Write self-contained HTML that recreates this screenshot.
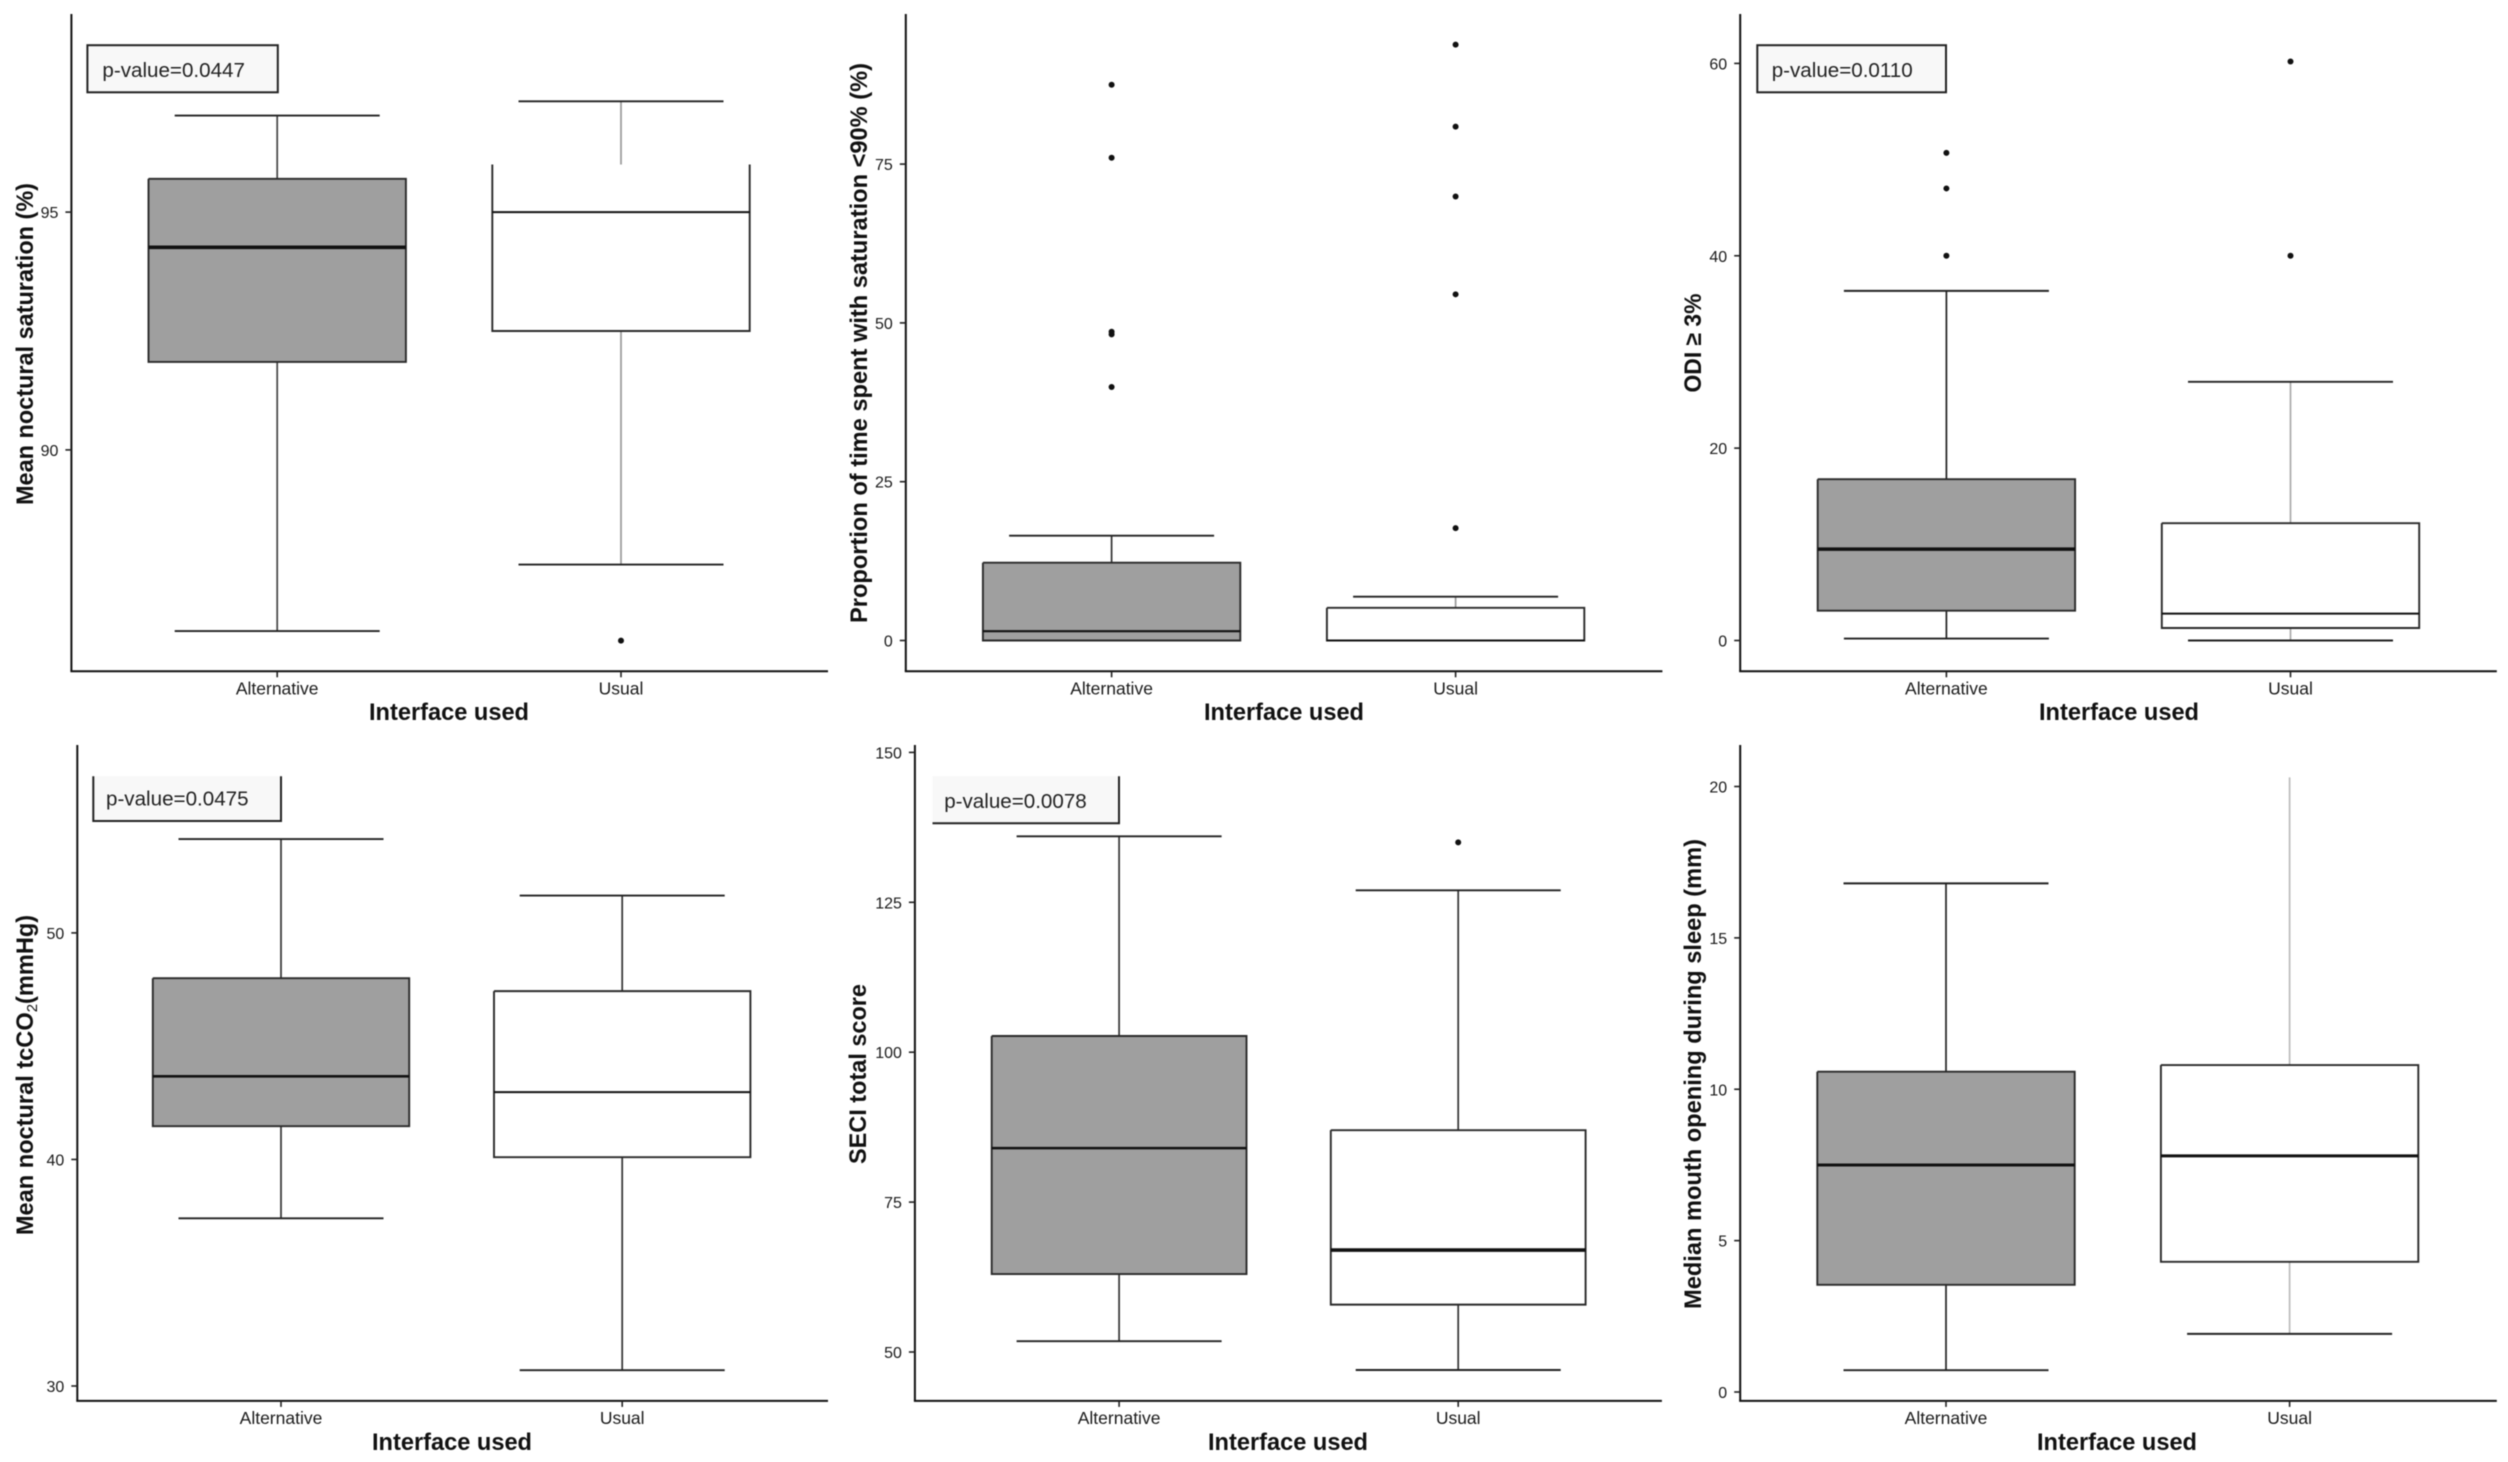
<!DOCTYPE html>
<html lang="en">
<head>
<meta charset="utf-8">
<title>Boxplots by interface used</title>
<style>
html,body{margin:0;padding:0;background:#fff;}
svg{display:block;filter:blur(0.55px);}
text{font-family:"Liberation Sans",Arial,sans-serif;fill:#1a1a1a;}
.axis-title{font-weight:bold;font-size:23.6px;fill:#111;}
.p-text{font-size:20.6px;fill:#222;}
.p-box{fill:#f8f8f8;stroke:none;}
.p-edge{stroke:#222;stroke-width:2;fill:none;}
</style>
</head>
<body>
<svg id="chart" xmlns="http://www.w3.org/2000/svg" width="2508" height="1462" viewBox="0 0 2508 1462">
  <rect x="0" y="0" width="2508" height="1462" fill="#ffffff"/>

  <g id="p1">
    <text class="axis-title" transform="translate(33,344) rotate(-90)" text-anchor="middle" textLength="322" lengthAdjust="spacingAndGlyphs">Mean noctural saturation (%)</text>
    <text class="axis-title" x="449" y="720" text-anchor="middle">Interface used</text>
  </g>
  <g id="p2">
    <text class="axis-title" transform="translate(867,343) rotate(-90)" text-anchor="middle" textLength="560" lengthAdjust="spacingAndGlyphs">Proportion of time spent with saturation &lt;90% (%)</text>
    <text class="axis-title" x="1284" y="720" text-anchor="middle">Interface used</text>
  </g>
  <g id="p3">
    <text class="axis-title" transform="translate(1701,343) rotate(-90)" text-anchor="middle" textLength="99" lengthAdjust="spacingAndGlyphs">ODI ≥ 3%</text>
    <text class="axis-title" x="2119" y="720" text-anchor="middle">Interface used</text>
  </g>
  <g id="p4">
    <text class="axis-title" transform="translate(33,1075) rotate(-90)" text-anchor="middle">Mean noctural tcCO<tspan dy="4" font-size="15" font-weight="normal">2</tspan><tspan dy="-4">(mmHg)</tspan></text>
    <text class="axis-title" x="452" y="1450" text-anchor="middle">Interface used</text>
  </g>
  <g id="p5">
    <text class="axis-title" transform="translate(866,1074) rotate(-90)" text-anchor="middle" textLength="180" lengthAdjust="spacingAndGlyphs">SECI total score</text>
    <text class="axis-title" x="1288" y="1450" text-anchor="middle">Interface used</text>
  </g>
  <g id="p6">
    <text class="axis-title" transform="translate(1701,1074) rotate(-90)" text-anchor="middle" textLength="470" lengthAdjust="spacingAndGlyphs">Median mouth opening during sleep (mm)</text>
    <text class="axis-title" x="2117" y="1450" text-anchor="middle">Interface used</text>
  </g>

  <g id="annotations">
    <g>
      <rect class="p-box p-edge" style="fill:#f8f8f8" x="87.4" y="45.2" width="190.4" height="47.1"/>
      <text class="p-text" x="102.4" y="77">p-value=0.0447</text>
    </g>
    <g>
      <rect class="p-box p-edge" style="fill:#f8f8f8" x="1757.3" y="45.2" width="188.7" height="47.1"/>
      <text class="p-text" x="1771.7" y="77">p-value=0.0110</text>
    </g>
    <g>
      <rect class="p-box" x="93.3" y="776.2" width="187.7" height="44.8"/>
      <polyline class="p-edge" points="93.3,776.2 93.3,821 281,821 281,776.2"/>
      <text class="p-text" x="106" y="805.6">p-value=0.0475</text>
    </g>
    <g>
      <rect class="p-box" x="932.5" y="776.2" width="186.5" height="47.1"/>
      <polyline class="p-edge" points="932.5,823.3 1119,823.3 1119,776.2"/>
      <text class="p-text" x="944.2" y="808">p-value=0.0078</text>
    </g>
  </g>
</svg>

<script>
// Shared categories
const categories = ['Alternative', 'Usual'];

// Each box series: [lower whisker, Q1, median, Q3, upper whisker]
const saturationTicks = [90, 95];
const saturationAlternative = [86.19, 91.85, 94.26, 95.7, 97.03];
const saturationUsual = [87.59, 92.5, 95, 96, 97.33];
const saturationAlternativeOutliers = [];
const saturationUsualOutliers = [85.99];

const timeBelowTicks = [0, 25, 50, 75];
const timeBelowAlternative = [0, 0, 1.47, 12.25, 16.5];
const timeBelowUsual = [0, 0, 0, 5.14, 6.9];
const timeBelowAlternativeOutliers = [87.5, 76, 48.6, 48.2, 39.9];
const timeBelowUsualOutliers = [93.8, 80.9, 69.9, 54.5, 17.7];

const odiTicks = [0, 20, 40, 60];
const odiAlternative = [0.2, 3.1, 9.5, 16.77, 36.35];
const odiUsual = [0, 1.3, 2.8, 12.2, 26.9];
const odiAlternativeOutliers = [50.7, 47, 40];
const odiUsualOutliers = [60.2, 40];

const tcco2Ticks = [30, 40, 50];
const tcco2Alternative = [37.4, 41.47, 43.67, 48, 54.14];
const tcco2Usual = [30.7, 40.1, 42.97, 47.43, 51.65];
const tcco2AlternativeOutliers = [];
const tcco2UsualOutliers = [];

const seciTicks = [50, 75, 100, 125, 150];
const seciAlternative = [51.8, 63, 84, 102.7, 136];
const seciUsual = [47, 57.9, 67, 87, 127];
const seciAlternativeOutliers = [];
const seciUsualOutliers = [135];

const mouthTicks = [0, 5, 10, 15, 20];
const mouthAlternative = [0.72, 3.54, 7.5, 10.58, 16.8];
const mouthUsual = [1.92, 4.3, 7.8, 10.8, 20.3];
const mouthAlternativeOutliers = [];
const mouthUsualOutliers = [];

// Panel layout: plot frame, and the pixel span for two reference axis values
const panels = [
  { id:'p1', left:71.4,  right:828,    top:14,  bottom:671.3,  domain:[90,95],   range:[449.9,212.1],  centers:[277.2,621], boxHalf:128.7,
    ticks:saturationTicks, series:[saturationAlternative,saturationUsual], outliers:[saturationAlternativeOutliers,saturationUsualOutliers],
    medianWidth:[3.6,2], whiskerColor:['#444','#999'], openTop:[false,true], noTopCap:[false,false] },
  { id:'p2', left:905.8, right:1662.4, top:14,  bottom:671.3,  domain:[0,75],    range:[640.5,164.1],  centers:[1111.6,1455.6], boxHalf:128.7,
    ticks:timeBelowTicks, series:[timeBelowAlternative,timeBelowUsual], outliers:[timeBelowAlternativeOutliers,timeBelowUsualOutliers],
    medianWidth:[2.2,2], whiskerColor:['#333','#999'], openTop:[false,false], noTopCap:[false,false] },
  { id:'p3', left:1740.2,right:2496.8, top:14,  bottom:671.3,  domain:[0,60],    range:[640.5,63.4],   centers:[1946.4,2290.5], boxHalf:128.7,
    ticks:odiTicks, series:[odiAlternative,odiUsual], outliers:[odiAlternativeOutliers,odiUsualOutliers],
    medianWidth:[3.6,2], whiskerColor:['#222','#aaa'], openTop:[false,false], noTopCap:[false,false] },
  { id:'p4', left:77.3,  right:828,    top:745, bottom:1400.9, domain:[30,50],   range:[1386,932.9],   centers:[281,622.2], boxHalf:128.2,
    ticks:tcco2Ticks, series:[tcco2Alternative,tcco2Usual], outliers:[tcco2AlternativeOutliers,tcco2UsualOutliers],
    medianWidth:[2.6,2], whiskerColor:['#333','#333'], openTop:[false,false], noTopCap:[false,false] },
  { id:'p5', left:914.9, right:1661.9, top:745, bottom:1400.9, domain:[50,150],  range:[1352,752.4],   centers:[1119.1,1458.2], boxHalf:127.4,
    ticks:seciTicks, series:[seciAlternative,seciUsual], outliers:[seciAlternativeOutliers,seciUsualOutliers],
    medianWidth:[2.4,3.6], whiskerColor:['#333','#333'], openTop:[false,false], noTopCap:[false,false] },
  { id:'p6', left:1740.2,right:2496.8, top:745, bottom:1400.9, domain:[0,20],    range:[1392,786.5],   centers:[1946,2289.6], boxHalf:128.7,
    ticks:mouthTicks, series:[mouthAlternative,mouthUsual], outliers:[mouthAlternativeOutliers,mouthUsualOutliers],
    medianWidth:[3,3], whiskerColor:['#222','#bbb'], openTop:[false,false], noTopCap:[false,true] }
];

const NS = 'http://www.w3.org/2000/svg';
const CAP_HALF = 102.5;
const FILLS = ['#9f9f9f', '#ffffff'];

function make(tag, attrs, parent) {
  const el = document.createElementNS(NS, tag);
  for (const k in attrs) el.setAttribute(k, attrs[k]);
  parent.appendChild(el);
  return el;
}

function linearScale(domain, range) {
  const k = (range[1] - range[0]) / (domain[1] - domain[0]);
  return function (v) { return range[0] + (v - domain[0]) * k; };
}

function drawAxes(p, g, y) {
  const yAxis = make('line', {x1:p.left, x2:p.left, y1:p.top, y2:p.bottom, stroke:'#111', 'stroke-width':2}, g);
  
  
  const xAxis = make('line', {x1:p.left - 1, x2:p.right, y1:p.bottom, y2:p.bottom, stroke:'#111', 'stroke-width':2}, g);
  
  

  p.ticks.forEach(function (t) {
    const py = y(t);
    const mark = make('line', {x1:p.left - 6, x2:p.left, y1:py, y2:py, stroke:'#222', 'stroke-width':1.6}, g);
    
    
    const label = make('text', {x:p.left - 13, y:py + 6, 'text-anchor':'end', 'font-size':16}, g);
    label.textContent = String(t);
    
    
  });

  categories.forEach(function (c, i) {
    const cx = p.centers[i];
    const mark = make('line', {x1:cx, x2:cx, y1:p.bottom, y2:p.bottom + 6, stroke:'#222', 'stroke-width':1.6}, g);
    
    
    const label = make('text', {x:cx, y:p.bottom + 23, 'text-anchor':'middle', 'font-size':17.5}, g);
    label.textContent = c;
    
    
  });
}

function drawBox(p, g, y, i) {
  const s = p.series[i];
  const cx = p.centers[i];
  const box = make('g', {}, g);
  
  

  const whisker = make('line', {x1:cx, x2:cx, y1:y(s[4]), y2:y(s[0]), stroke:p.whiskerColor[i], 'stroke-width':1.7}, box);
  
  

  const lowCap = make('line', {x1:cx - CAP_HALF, x2:cx + CAP_HALF, y1:y(s[0]), y2:y(s[0]), stroke:'#222', 'stroke-width':1.9}, box);
  
  

  if (!p.noTopCap[i]) {
    const highCap = make('line', {x1:cx - CAP_HALF, x2:cx + CAP_HALF, y1:y(s[4]), y2:y(s[4]), stroke:'#222', 'stroke-width':1.9}, box);
    
    
  }

  const x0 = cx - p.boxHalf, x1 = cx + p.boxHalf;
  const body = make('rect', {x:x0, y:y(s[3]), width:x1 - x0, height:y(s[1]) - y(s[3]), fill:FILLS[i], stroke:'none'}, box);
  
  

  const pts = [[x0, y(s[3])], [x0, y(s[1])], [x1, y(s[1])], [x1, y(s[3])]];
  if (!p.openTop[i]) pts.push([x0, y(s[3])]);
  const edge = make('polyline', {points:pts.map(function (q) { return q.join(','); }).join(' '), fill:'none', stroke:'#2a2a2a', 'stroke-width':1.9}, box);
  
  

  const median = make('line', {x1:x0, x2:x1, y1:y(s[2]), y2:y(s[2]), stroke:'#111', 'stroke-width':p.medianWidth[i]}, box);
  
  

  p.outliers[i].forEach(function (v) {
    const dot = make('circle', {cx:cx, cy:y(v), r:3, fill:'#111'}, box);
    
    
  });
}

panels.forEach(function (p) {
  const g = document.getElementById(p.id);
  const y = linearScale(p.domain, p.range);
  drawAxes(p, g, y);
  categories.forEach(function (c, i) { drawBox(p, g, y, i); });
});

// Keep the p-value annotations above the plot marks
document.getElementById('chart').appendChild(document.getElementById('annotations'));
</script>
</body>
</html>
